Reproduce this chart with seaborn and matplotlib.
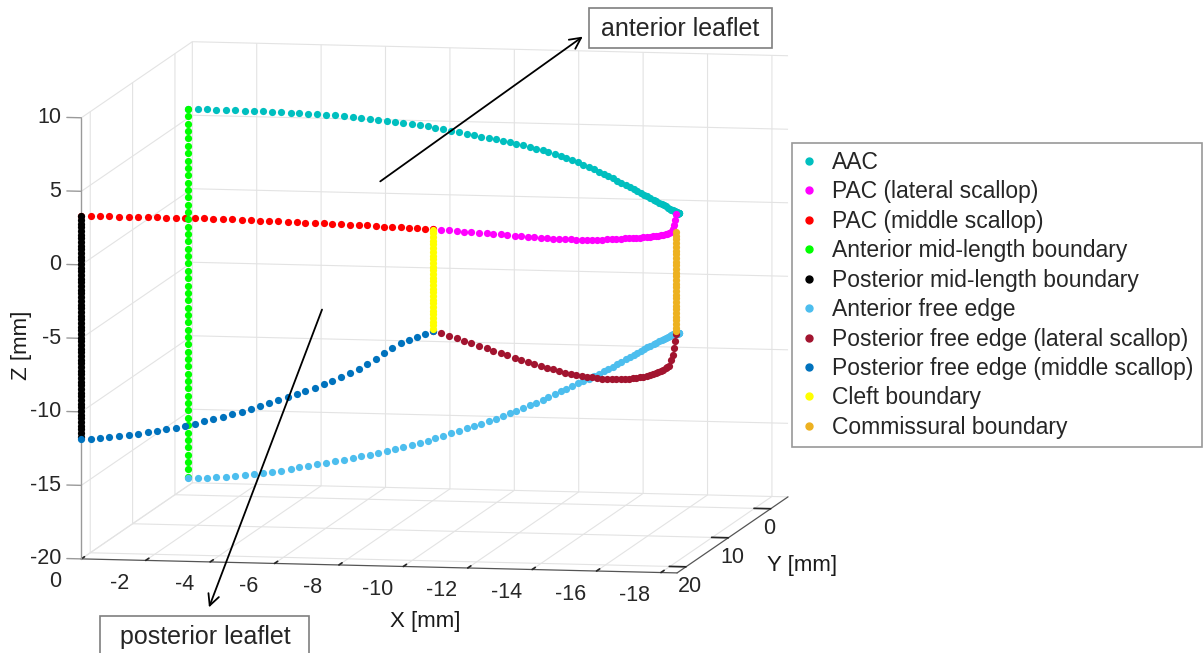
import matplotlib
matplotlib.use("Agg")
import matplotlib.pyplot as plt
import seaborn as sns
from matplotlib.lines import Line2D
from matplotlib.patches import Rectangle
from mpl_toolkits.mplot3d import proj3d

# ---------------- data (mm) ----------------
# x positions of leaflet nodes (mid-length -> commissure), shared by both leaflets
X = [0.00, -0.29, -0.59, -0.87, -1.17, -1.46, -1.75, -2.05, -2.33, -2.62,
     -2.91, -3.20, -3.48, -3.77, -4.05, -4.34, -4.61, -4.90, -5.18, -5.46,
     -5.72, -6.00, -6.28, -6.55, -6.81, -7.08, -7.35, -7.61, -7.86, -8.12,
     -8.38, -8.63, -8.88, -9.13, -9.36, -9.61, -9.85, -10.08, -10.32, -10.54,
     -10.77, -10.99, -11.21, -11.43, -11.63, -11.85, -12.06, -12.25, -12.45, -12.64,
     -12.84, -13.02, -13.20, -13.38, -13.56, -13.72, -13.89, -14.05, -14.20, -14.36,
     -14.51, -14.66, -14.79, -14.92, -15.06, -15.18, -15.30, -15.42, -15.53, -15.64,
     -15.75, -15.84, -15.93, -16.02, -16.11, -16.18, -16.26, -16.32, -16.38, -16.44,
     -16.50, -16.55, -16.59, -16.63, -16.66, -16.69, -16.71, -16.73, -16.74, -16.75,
     -16.75]
# y positions of anterior leaflet nodes
Y_ANT = [-3.18, -3.18, -3.17, -3.17, -3.16, -3.13, -3.12, -3.09, -3.07, -3.04,
         -3.00, -2.96, -2.92, -2.87, -2.82, -2.76, -2.71, -2.65, -2.58, -2.51,
         -2.45, -2.37, -2.29, -2.21, -2.13, -2.04, -1.95, -1.86, -1.75, -1.65,
         -1.55, -1.44, -1.34, -1.22, -1.10, -0.98, -0.85, -0.73, -0.60, -0.47,
         -0.33, -0.20, -0.05, 0.09, 0.24, 0.38, 0.54, 0.69, 0.85, 1.01,
         1.17, 1.34, 1.49, 1.66, 1.83, 2.02, 2.19, 2.36, 2.54, 2.73,
         2.91, 3.09, 3.28, 3.47, 3.66, 3.85, 4.05, 4.24, 4.44, 4.64,
         4.83, 5.03, 5.24, 5.44, 5.65, 5.84, 6.05, 6.26, 6.47, 6.68,
         6.89, 7.10, 7.31, 7.52, 7.73, 7.94, 8.15, 8.36, 8.58, 8.79,
         9.00]
# y positions of posterior leaflet nodes
Y_POST = [22.10, 22.10, 22.09, 22.09, 22.07, 22.05, 22.03, 22.01, 21.97, 21.94,
          21.90, 21.86, 21.81, 21.76, 21.71, 21.65, 21.59, 21.52, 21.46, 21.39,
          21.31, 21.24, 21.14, 21.07, 20.97, 20.87, 20.78, 20.67, 20.57, 20.46,
          20.34, 20.23, 20.11, 19.99, 19.86, 19.73, 19.60, 19.47, 19.32, 19.18,
          19.03, 18.89, 18.73, 18.58, 18.42, 18.26, 18.10, 17.93, 17.76, 17.59,
          17.42, 17.24, 17.07, 16.89, 16.70, 16.52, 16.32, 16.14, 15.94, 15.75,
          15.55, 15.35, 15.14, 14.95, 14.74, 14.54, 14.33, 14.12, 13.91, 13.69,
          13.48, 13.27, 13.05, 12.83, 12.62, 12.39, 12.17, 11.95, 11.72, 11.50,
          11.28, 11.04, 10.82, 10.60, 10.38, 10.14, 9.92, 9.68, 9.46, 9.22,
          9.00]
CLEFT = 39  # node index of the cleft between middle and lateral scallop

Z_AAC = [5.62, 5.62, 5.61, 5.61, 5.60, 5.59, 5.59, 5.59, 5.58, 5.58,
         5.58, 5.57, 5.56, 5.55, 5.54, 5.52, 5.50, 5.47, 5.44, 5.41,
         5.38, 5.35, 5.31, 5.27, 5.23, 5.19, 5.13, 5.07, 5.01, 4.94,
         4.88, 4.82, 4.75, 4.69, 4.62, 4.56, 4.50, 4.44, 4.38, 4.31,
         4.25, 4.18, 4.11, 4.03, 3.96, 3.88, 3.78, 3.67, 3.56, 3.45,
         3.34, 3.22, 3.11, 2.99, 2.88, 2.76, 2.66, 2.56, 2.45, 2.35,
         2.25, 2.16, 2.08, 1.99, 1.91, 1.83, 1.76, 1.70, 1.64, 1.58,
         1.52, 1.49, 1.46, 1.43, 1.40, 1.38, 1.38, 1.39, 1.40, 1.41,
         1.42, 1.44, 1.47, 1.50, 1.53, 1.56, 1.60, 1.64, 1.68, 1.72,
         1.75]
Z_ANT_FREE = [-19.48, -19.47, -19.44, -19.40, -19.35, -19.29, -19.21, -19.12, -19.02, -18.91,
              -18.80, -18.67, -18.54, -18.41, -18.28, -18.15, -18.02, -17.88, -17.75, -17.61,
              -17.47, -17.31, -17.15, -17.00, -16.84, -16.68, -16.49, -16.29, -16.09, -15.90,
              -15.70, -15.50, -15.30, -15.10, -14.90, -14.70, -14.49, -14.27, -14.06, -13.84,
              -13.63, -13.39, -13.16, -12.92, -12.69, -12.45, -12.23, -12.01, -11.80, -11.58,
              -11.36, -11.16, -10.96, -10.75, -10.55, -10.35, -10.14, -9.93, -9.72, -9.51,
              -9.30, -9.12, -8.95, -8.77, -8.60, -8.42, -8.27, -8.12, -7.98, -7.83,
              -7.68, -7.57, -7.46, -7.35, -7.24, -7.13, -7.06, -7.00, -6.93, -6.87,
              -6.80, -6.76, -6.71, -6.67, -6.62, -6.58, -6.55, -6.51, -6.48, -6.44,
              -6.41]
Z_PAC_MID = [3.33, 3.33, 3.33, 3.33, 3.33, 3.33, 3.33, 3.33, 3.32, 3.32,
             3.32, 3.31, 3.29, 3.28, 3.26, 3.24, 3.22, 3.20, 3.17, 3.15,
             3.13, 3.10, 3.06, 3.03, 2.99, 2.96, 2.93, 2.89, 2.86, 2.82,
             2.79, 2.75, 2.71, 2.66, 2.62, 2.58, 2.53, 2.48, 2.43, 2.38]
Z_PAC_LAT = [2.38, 2.33, 2.27, 2.22, 2.16, 2.11, 2.05, 1.99, 1.92, 1.86,
             1.79, 1.73, 1.66, 1.60, 1.53, 1.47, 1.40, 1.35, 1.30, 1.26,
             1.21, 1.16, 1.13, 1.10, 1.07, 1.04, 1.01, 0.99, 0.97, 0.94,
             0.92, 0.90, 0.88, 0.86, 0.83, 0.81, 0.79, 0.77, 0.75, 0.73,
             0.71, 0.69, 0.68, 0.67, 0.66, 0.65, 0.64, 0.70, 0.86, 1.09,
             1.39, 1.75]
Z_POST_FREE_MID = [-11.84, -11.82, -11.77, -11.70, -11.62, -11.52, -11.42, -11.31, -11.20, -11.09,
                   -10.98, -10.83, -10.68, -10.52, -10.36, -10.20, -10.02, -9.84, -9.65, -9.47,
                   -9.28, -9.07, -8.86, -8.66, -8.45, -8.24, -8.01, -7.77, -7.52, -7.26,
                   -6.99, -6.66, -6.32, -5.97, -5.62, -5.28, -5.08, -4.90, -4.70, -4.52]
Z_POST_FREE_LAT = [-4.52, -4.71, -4.90, -5.09, -5.28, -5.47, -5.66, -5.84, -6.02, -6.20,
                   -6.39, -6.57, -6.74, -6.90, -7.07, -7.23, -7.40, -7.54, -7.68, -7.81,
                   -7.94, -8.06, -8.14, -8.22, -8.30, -8.38, -8.46, -8.50, -8.54, -8.58,
                   -8.62, -8.66, -8.67, -8.68, -8.69, -8.70, -8.70, -8.69, -8.67, -8.65,
                   -8.63, -8.60, -8.56, -8.51, -8.46, -8.41, -8.36, -8.00, -7.71, -7.28,
                   -6.85, -6.41]
# vertical boundaries
Z_ANT_MID = [5.6, 5.1, 4.6, 4.1, 3.6, 3.1, 2.6, 2.1, 1.6, 1.1, 0.6, 0.1, -0.4, -0.9,
             -1.4, -1.9, -2.4, -2.9, -3.4, -3.9, -4.4, -4.9, -5.4, -5.9, -6.4, -6.9,
             -7.4, -7.9, -8.4, -8.9, -9.4, -9.9, -10.4, -10.9, -11.4, -11.9, -12.4,
             -12.9, -13.4, -13.9, -14.4, -14.9, -15.4, -15.9, -16.4, -16.9, -17.4,
             -17.9, -18.4, -18.9, -19.4]
Z_POST_MID = [3.30, 3.05, 2.80, 2.55, 2.30, 2.05, 1.80, 1.55, 1.30, 1.05, 0.80, 0.55,
              0.30, 0.05, -0.20, -0.45, -0.70, -0.95, -1.20, -1.45, -1.70, -1.95,
              -2.20, -2.45, -2.70, -2.95, -3.20, -3.45, -3.70, -3.95, -4.20, -4.45,
              -4.70, -4.95, -5.20, -5.45, -5.70, -5.95, -6.20, -6.45, -6.70, -6.95,
              -7.20, -7.45, -7.70, -7.95, -8.20, -8.45, -8.70, -8.95, -9.20, -9.45,
              -9.70, -9.95, -10.20, -10.45, -10.70, -10.95, -11.20, -11.45, -11.70]
Z_CLEFT = [2.35, 2.10, 1.85, 1.60, 1.35, 1.10, 0.85, 0.60, 0.35, 0.10, -0.15, -0.40,
           -0.65, -0.90, -1.15, -1.40, -1.65, -1.90, -2.15, -2.40, -2.65, -2.90,
           -3.15, -3.40, -3.65, -3.90, -4.15, -4.40]
Z_COMM = [0.50, 0.25, 0.00, -0.25, -0.50, -0.75, -1.00, -1.25, -1.50, -1.75, -2.00,
          -2.25, -2.50, -2.75, -3.00, -3.25, -3.50, -3.75, -4.00, -4.25, -4.50,
          -4.75, -5.00, -5.25, -5.50, -5.75, -6.00, -6.25]

LABELS = ["AAC", "PAC (lateral scallop)", "PAC (middle scallop)",
          "Anterior mid-length boundary", "Posterior mid-length boundary",
          "Anterior free edge", "Posterior free edge (lateral scallop)",
          "Posterior free edge (middle scallop)", "Cleft boundary",
          "Commissural boundary"]
COLORS = ["#00BFBF", "#FF00FF", "#FF0000", "#00FF00", "#000000",
          "#4DBEEE", "#A2142F", "#0072BD", "#FFFF00", "#EDB120"]

XLIM = (-18.5, 0)
YLIM = (-4.1, 22.1)
ZLIM = (-20, 10)
X_TICKS = [-18, -16, -14, -12, -10, -8, -6, -4, -2, 0]
Y_TICKS = [0, 10, 20]
Z_TICKS = [-20, -15, -10, -5, 0, 5, 10]

# ---------------- style ----------------
sns.set_theme(style="white")
plt.rcParams['font.family'] = ['Liberation Sans', 'DejaVu Sans']
plt.rcParams['axes.unicode_minus'] = False
pal = sns.color_palette(COLORS)
TICK_FS = 15.5
TICK_COLOR = '#262626'

W, H = 1203, 653
fig = plt.figure(figsize=(W / 100, H / 100), dpi=100)
S = 939
cx, cy = 422, 320
ax = fig.add_axes([(cx - S / 2) / W, (H - cy - S / 2) / H, S / W, S / H], projection='3d')
ax.set_proj_type('ortho')
ax.view_init(elev=7.3, azim=100.5)
ax.set_box_aspect((1, 1.005, 0.734), zoom=1.0)
ax.computed_zorder = False

series = [
    (X, Y_ANT, Z_AAC),
    (X[CLEFT:], Y_POST[CLEFT:], Z_PAC_LAT),
    (X[:CLEFT + 1], Y_POST[:CLEFT + 1], Z_PAC_MID),
    (X[0], Y_ANT[0], Z_ANT_MID),
    (X[0], Y_POST[0], Z_POST_MID),
    (X, Y_ANT, Z_ANT_FREE),
    (X[CLEFT:], Y_POST[CLEFT:], Z_POST_FREE_LAT),
    (X[:CLEFT + 1], Y_POST[:CLEFT + 1], Z_POST_FREE_MID),
    (X[CLEFT], Y_POST[CLEFT], Z_CLEFT),
    (X[-1], Y_POST[-1], Z_COMM),
]
for i, (xs, ys, zs) in enumerate(series):
    ax.scatter(xs, ys, zs, s=27, color=pal[i], linewidths=0, depthshade=False,
               zorder=i + 3)

ax.set_xlim(*XLIM)
ax.set_ylim(*YLIM)
ax.set_zlim(*ZLIM)
ax.set_xticks(X_TICKS)
ax.set_yticks(Y_TICKS)
ax.set_zticks(Z_TICKS)
ax.set_xticklabels([])
ax.set_yticklabels([])
ax.set_zticklabels([])
for axis in (ax.xaxis, ax.yaxis, ax.zaxis):
    axis.set_pane_color((1, 1, 1, 0))
    axis.pane.set_edgecolor('#e3e3e3')
    axis._axinfo['grid'].update(color='#e3e3e3', linewidth=0.8)
    axis.line.set_color('#555555')
    axis.line.set_linewidth(0.9)
    axis._axinfo['tick'].update(inward_factor=0.0, outward_factor=0.35, color='#555555')
# z axis drawn on the left front edge, MATLAB style
ax.zaxis.line.set_color((1, 1, 1, 0))
ax.zaxis._axinfo['tick'].update(inward_factor=0.0, outward_factor=0.0)
ax.plot([XLIM[1], XLIM[1]], [YLIM[1], YLIM[1]], list(ZLIM), color='#9a9a9a', lw=1.0, zorder=2)
for t in Z_TICKS:
    ax.plot([XLIM[1], XLIM[1] + 0.45], [YLIM[1], YLIM[1]], [t, t], color='#9a9a9a', lw=1.0, zorder=2)

# ---------------- overlay texts ----------------
ov = fig.add_axes([0, 0, 1, 1])
ov.set_xlim(0, W)
ov.set_ylim(H, 0)
ov.axis('off')

fig.canvas.draw()
M = ax.get_proj()


def to_px(x, y, z):
    x2, y2, _ = proj3d.proj_transform(x, y, z, M)
    px, py = ax.transData.transform((x2, y2))
    return px, H - py


for t in X_TICKS:
    px, py = to_px(t, YLIM[1], ZLIM[0])
    ov.text(px - 26, py + 23, str(t), fontsize=TICK_FS, color=TICK_COLOR, ha='center', va='center')
for t in Y_TICKS:
    px, py = to_px(XLIM[0], t, ZLIM[0])
    ov.text(px - 8, py + 20, str(t), fontsize=TICK_FS, color=TICK_COLOR, ha='left', va='center')
for t in Z_TICKS:
    px, py = to_px(XLIM[1], YLIM[1], t)
    ov.text(px - 20, py, str(t), fontsize=TICK_FS, color=TICK_COLOR, ha='right', va='center')

ov.text(425, 622, "X [mm]", fontsize=16, ha='center', va='center', color='#1a1a1a')
ov.text(767, 565, "Y [mm]", fontsize=16, ha='left', va='center', color='#1a1a1a')
ov.text(22, 345, "Z [mm]", fontsize=16, ha='center', va='center', rotation=90, color='#1a1a1a')

ov.annotate('', xy=(585, 35), xytext=(378, 183),
            arrowprops=dict(arrowstyle='->', color='black', lw=1.3, mutation_scale=20))
ov.annotate('', xy=(208, 610), xytext=(323, 307),
            arrowprops=dict(arrowstyle='->', color='black', lw=1.3, mutation_scale=20))
ov.add_patch(Rectangle((589, 8), 183, 40, fc='white', ec='#7f7f7f', lw=1.2, zorder=4))
ov.text(680, 29, "anterior leaflet", fontsize=18, ha='center', va='center', zorder=5)
ov.add_patch(Rectangle((100, 616), 209, 45, fc='white', ec='#7f7f7f', lw=1.2, zorder=4))
ov.text(205, 637, "posterior leaflet", fontsize=18, ha='center', va='center', zorder=5)

handles = [Line2D([], [], marker='o', ls='', color=pal[i], markersize=5) for i in range(len(LABELS))]
leg = fig.legend(handles, LABELS, loc='upper left', bbox_to_anchor=(792 / W, 1 - 143 / H),
                 fontsize=16.5, frameon=True, fancybox=False, labelspacing=0.28,
                 handlelength=0.8, handletextpad=0.6, borderpad=0.35, borderaxespad=0)
leg.get_frame().set_edgecolor('#7f7f7f')
leg.get_frame().set_linewidth(1.2)

fig.savefig("out.png", dpi=100)
